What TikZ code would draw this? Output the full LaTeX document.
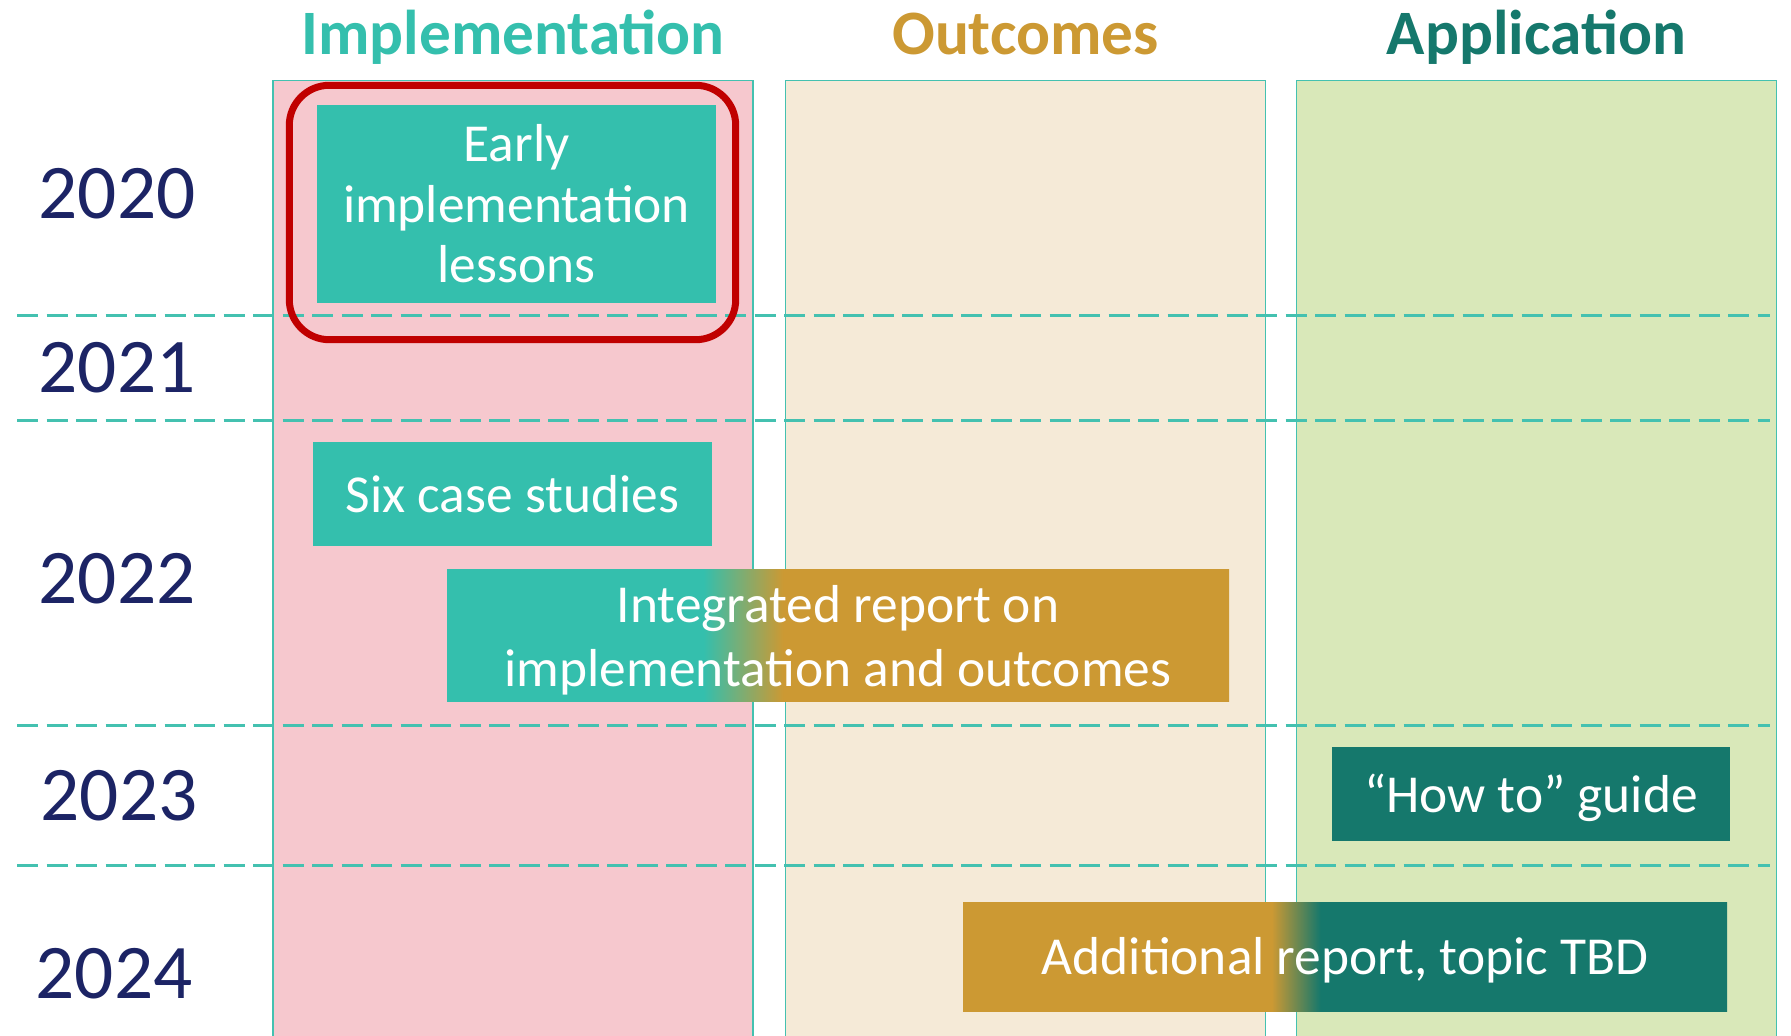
\documentclass[tikz,border=0pt]{standalone}
\usepackage{fontspec}
\setmainfont{Carlito}
\usepackage{xcolor}
\usepackage{tikz}
\usetikzlibrary{positioning,calc}
\definecolor{impl}{HTML}{34BFAD}
\definecolor{outc}{HTML}{CC9933}
\definecolor{appl}{HTML}{15786C}
\definecolor{yearc}{HTML}{1C2465}
\definecolor{hilite}{HTML}{C00000}
\definecolor{pinkbg}{HTML}{F6C8CE}
\definecolor{sandbg}{HTML}{F5EAD7}
\definecolor{limebg}{HTML}{D9E8B9}
\definecolor{rule}{HTML}{44C1B0}
% two-colour bars: edges of the path sit at 25bp and 75bp
\pgfdeclarehorizontalshading{implout}{100bp}{color(0bp)=(impl); color(41.4bp)=(impl); color(46.5bp)=(outc); color(100bp)=(outc)}
\pgfdeclarehorizontalshading{outappl}{100bp}{color(0bp)=(outc); color(45.2bp)=(outc); color(48.4bp)=(appl); color(100bp)=(appl)}
\tikzset{
  column/.style={draw=rule,line width=0.15mm,minimum width=48mm,minimum height=97mm,inner sep=0pt},
  head/.style={font=\fontsize{18}{20}\selectfont\bfseries,anchor=base},
  year/.style={font=\fontsize{22}{24}\selectfont,text=yearc},
  task/.style={text=white,inner sep=0pt,align=center,font=\fontsize{15.2}{18.2}\selectfont},
  oneline/.style={task,text height=13pt,text depth=2.7pt},
  grid/.style={draw=rule,line width=0.3mm,dash pattern=on 2.1mm off 0.85mm},
  ring/.style={draw=hilite,line width=0.7mm,rounded corners=4mm},
}

\begin{document}
\begin{tikzpicture}[x=0.1mm,y=-0.1mm]
    \useasboundingbox (0,0) rectangle (1791,1036);
    % the three strands
    \node[column,fill=pinkbg,anchor=north] (colimpl) at (513,80) {};
    \node[column,fill=sandbg,anchor=north] (coloutc) at (1025.5,80) {};
    \node[column,fill=limebg,anchor=north] (colappl) at (1536.5,80) {};
    \node[head,text=impl] (himpl) at ($(colimpl.north)+(0,-25)$) {Implementation};
    \node[head,text=outc] (houtc) at ($(coloutc.north)+(0,-25)$) {Outcomes};
    \node[head,text=appl] (happl) at ($(colappl.north)+(0,-25)$) {Application};
    % year bands
    \foreach \y in {316,421,725,865} \draw[grid] (17,\y) -- (1770,\y);
    \foreach \yr/\x/\y in {2020/117/194,2021/117/368,2022/117/579,2023/119/796,2024/114/974}
      \node[year] (y\yr) at (\x,\y) {\yr};
    % deliverables
    \node[task,font=\fontsize{15.2}{17.2}\selectfont,fill=impl,minimum width=39.9mm,minimum height=19.8mm] (early) at (516.5,204) {Early\\implementation\\lessons};
    \draw[ring] ($(early.north west)+(-27,-19)$) rectangle ($(early.south east)+(19,36)$);
    \node[oneline,fill=impl,minimum width=39.9mm,minimum height=10.4mm] (cases) at (512.5,494) {Six case studies};
    \node[task,text depth=0pt,shading=implout,minimum width=78.2mm,minimum height=13.2mm] (integ) at (838,635.5) {Integrated report on\\implementation and outcomes};
    \node[oneline,fill=appl,minimum width=39.8mm,minimum height=9.4mm] (howto) at (1531,794) {“How to” guide};
    \node[oneline,shading=outappl,minimum width=76.4mm,minimum height=10.9mm] (extra) at (1345,956.5) {Additional report, topic TBD};
\end{tikzpicture}
\end{document}
